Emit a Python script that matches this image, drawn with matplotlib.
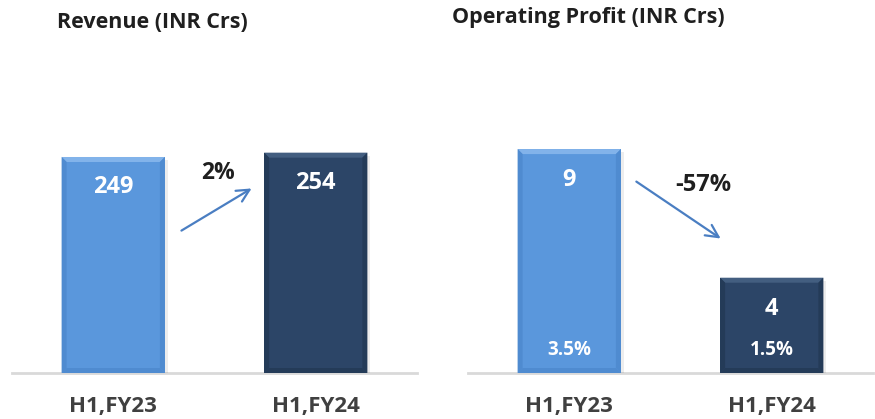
import matplotlib
matplotlib.use("Agg")
import matplotlib.pyplot as plt
from matplotlib.patches import Polygon

# ---- data ----
categories = ["H1,FY23", "H1,FY24"]
revenue = [249, 254]
revenue_labels = ["249", "254"]
op_profit = [9.4, 4.0]
op_labels = ["9", "4"]
op_margin = ["3.5%", "1.5%"]
revenue_growth = "2%"
op_growth = "-57%"
titles = ["Revenue (INR Crs)", "Operating Profit (INR Crs)"]

FONT = "Open Sans"
light = "#5A97DC"
dark = "#2C4567"
light_top = "#82B3EA"
light_side = "#4F8BD0"
dark_top = "#435E80"
dark_side = "#243B58"
arrow_c = "#4A7EC2"

W, H = 875, 419
fig = plt.figure(figsize=(W / 100, H / 100), dpi=100)

def px_axes(x0, x1, ybase, ytop):
    return fig.add_axes([x0 / W, (H - ybase) / H, (x1 - x0) / W, (ybase - ytop) / H])

axL = px_axes(12, 417, 373, 100)
axR = px_axes(468, 873, 373, 100)

def style(ax, ymax):
    ax.set_xlim(-0.5, 1.5)
    ax.set_ylim(0, ymax)
    for s in ax.spines.values():
        s.set_visible(False)
    ax.set_xticks([])
    ax.set_yticks([])
    ax.axhline(0, color="#D9D9D9", lw=2.0, zorder=1, clip_on=False)

style(axL, 314.7)
style(axR, 11.46)

def bevel_bars(ax, values, colors, tops, sides, bev=5):
    x = list(range(len(values)))
    bars = ax.bar(x, values, width=0.51, color=colors, zorder=2)
    inv = ax.transData.inverted()
    for b, tc, sc in zip(bars, tops, sides):
        x0, y0 = b.get_x(), 0
        x1, y1 = x0 + b.get_width(), b.get_height()
        (ax0, ay0) = ax.transData.transform((x0, y0))
        (ax1, ay1) = ax.transData.transform((x1, y1))
        def d(px, py):
            return inv.transform((px, py))
        sh = Polygon([d(ax0 + 2, ay0), d(ax1 + 3, ay0), d(ax1 + 3, ay1 - 3), d(ax0 + 2, ay1 - 3)],
                     closed=True, color="#000000", alpha=0.07, zorder=1.5, lw=0)
        ax.add_patch(sh)
        top = Polygon([d(ax0, ay1), d(ax1, ay1), d(ax1 - bev, ay1 - bev), d(ax0 + bev, ay1 - bev)],
                      closed=True, color=tc, zorder=3, lw=0)
        left = Polygon([d(ax0, ay1), d(ax0 + bev, ay1 - bev), d(ax0 + bev, ay0 + bev), d(ax0, ay0)],
                       closed=True, color=sc, zorder=3, lw=0)
        right = Polygon([d(ax1, ay1), d(ax1 - bev, ay1 - bev), d(ax1 - bev, ay0 + bev), d(ax1, ay0)],
                        closed=True, color=sc, zorder=3, lw=0)
        bot = Polygon([d(ax0, ay0), d(ax1, ay0), d(ax1 - bev, ay0 + bev), d(ax0 + bev, ay0 + bev)],
                      closed=True, color=sc, zorder=3, lw=0)
        for p in (top, left, right, bot):
            ax.add_patch(p)
    return bars

barsL = bevel_bars(axL, revenue, [light, dark], [light_top, dark_top], [light_side, dark_side])
barsR = bevel_bars(axR, op_profit, [light, dark], [light_top, dark_top], [light_side, dark_side])

def value_labels(ax, values, labels, off=-30, size=17):
    for i, (v, lab) in enumerate(zip(values, labels)):
        ax.annotate(lab, (i, v), xytext=(0, off), textcoords="offset pixels",
                    ha="center", va="center", color="white", fontsize=size,
                    fontweight="bold", family=FONT, zorder=5)

value_labels(axL, revenue, revenue_labels)
value_labels(axR, op_profit, op_labels, off=-31)
for i, m in enumerate(op_margin):
    axR.annotate(m, (i, 0), xytext=(0, 23), textcoords="offset pixels",
                 ha="center", va="center", color="white", fontsize=13.5,
                 fontweight="bold", family=FONT, zorder=5)

for ax in (axL, axR):
    for i, c in enumerate(categories):
        ax.annotate(c, (i, 0), xytext=(0, -33), textcoords="offset pixels",
                    ha="center", va="center", color="#404040", fontsize=16,
                    fontweight="bold", family=FONT, annotation_clip=False)

# growth arrows
axL.annotate("", xy=(0.695, 214.4), xytext=(0.325, 162.5),
             arrowprops=dict(arrowstyle="->,head_length=0.9,head_width=0.45", color=arrow_c, lw=1.6))
axL.text(0.517, 230.5, revenue_growth, ha="center", va="center", fontsize=16.5,
         fontweight="bold", family=FONT, color="#1F1F1F")
axR.annotate("", xy=(0.759, 5.58), xytext=(0.32, 8.1),
             arrowprops=dict(arrowstyle="->,head_length=0.9,head_width=0.45", color=arrow_c, lw=1.6))
axR.text(0.66, 7.89, op_growth, ha="center", va="center", fontsize=17,
         fontweight="bold", family=FONT, color="#1F1F1F")

fig.text(57 / W, 1 - 22 / H, titles[0], ha="left", va="center", fontsize=15.5,
         fontweight="bold", family=FONT, color="#1F1F1F")
fig.text(452 / W, 1 - 18 / H, titles[1], ha="left", va="center", fontsize=15.5,
         fontweight="bold", family=FONT, color="#1F1F1F")

fig.savefig("out.png", dpi=100)
